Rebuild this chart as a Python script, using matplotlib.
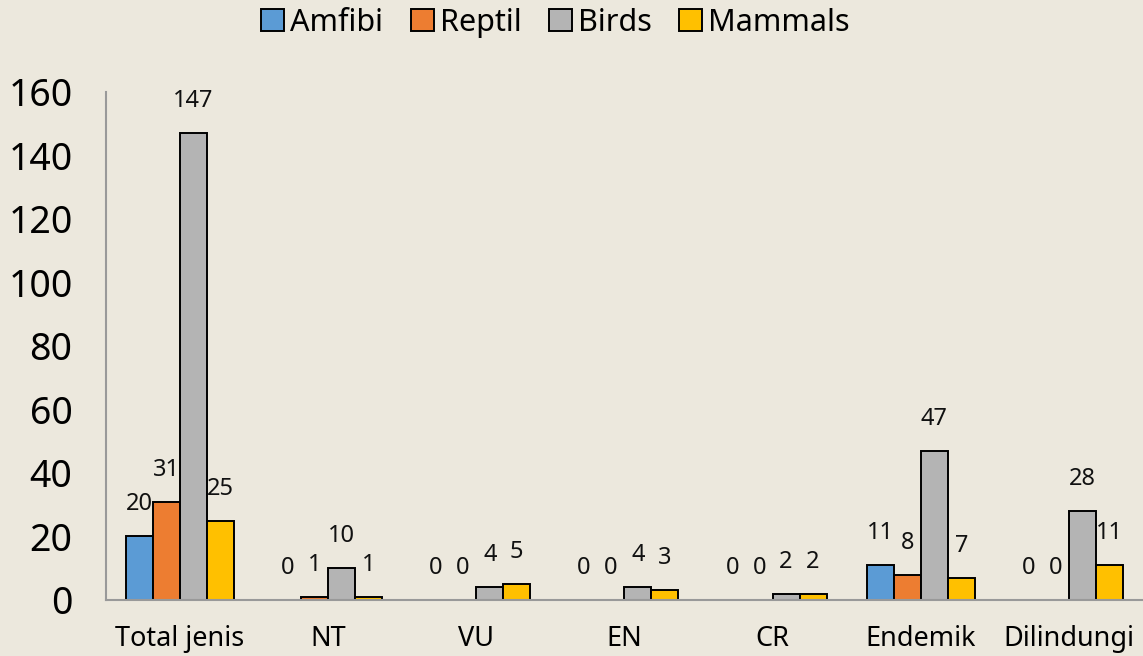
import numpy as np
import matplotlib.pyplot as plt

# data
categories = ["Total jenis", "NT", "VU", "EN", "CR", "Endemik", "Dilindungi"]
series = ["Amfibi", "Reptil", "Birds", "Mammals"]
amfibi = [20, 0, 0, 0, 0, 11, 0]
reptil = [31, 1, 0, 0, 0, 8, 0]
birds = [147, 10, 4, 4, 2, 47, 28]
mammals = [25, 1, 5, 3, 2, 7, 11]
values = [amfibi, reptil, birds, mammals]
colors = ["#5B9BD5", "#ED7D31", "#B4B4B4", "#FFC000"]

bg = "#ECE8DD"
plt.rcParams['font.family'] = ['Noto Sans', 'DejaVu Sans']

fig = plt.figure(figsize=(11.43, 6.56), dpi=100, facecolor=bg)
ax = fig.add_axes([0.0927, 0.0854, 0.9073, 0.7744])
ax.set_facecolor(bg)

x = np.arange(len(categories))
w = 0.182
for i, (name, vals, c) in enumerate(zip(series, values, colors)):
    pos = x + (i - 1.5) * w
    bars = ax.bar(pos, vals, width=w, color=c, edgecolor="black", linewidth=1.4, label=name)
    for b, v in zip(bars, vals):
        ax.annotate(str(v), (b.get_x() + b.get_width() / 2, v),
                    xytext=(0, 20), textcoords="offset pixels",
                    ha="center", va="bottom", fontsize=17, color="#111111")

ax.set_xlim(-0.5, 6.5)
ax.set_ylim(0, 160)
ax.set_yticks(range(0, 161, 20))
ax.set_xticks(x)
ax.set_xticklabels(categories, fontsize=19.5)
ax.tick_params(axis="y", labelsize=27, length=0, pad=24)
ax.tick_params(axis="x", length=0, pad=18)
for s in ["top", "right"]:
    ax.spines[s].set_visible(False)
for s in ["left", "bottom"]:
    ax.spines[s].set_color("#999999")
    ax.spines[s].set_linewidth(1.5)

fig.legend(loc="upper center", bbox_to_anchor=(0.486, 1.03), ncol=4, frameon=False,
           fontsize=22, handlelength=0.75, handleheight=0.75, handletextpad=0.2,
           columnspacing=0.9)

fig.savefig("out.png", dpi=100, facecolor=bg)
